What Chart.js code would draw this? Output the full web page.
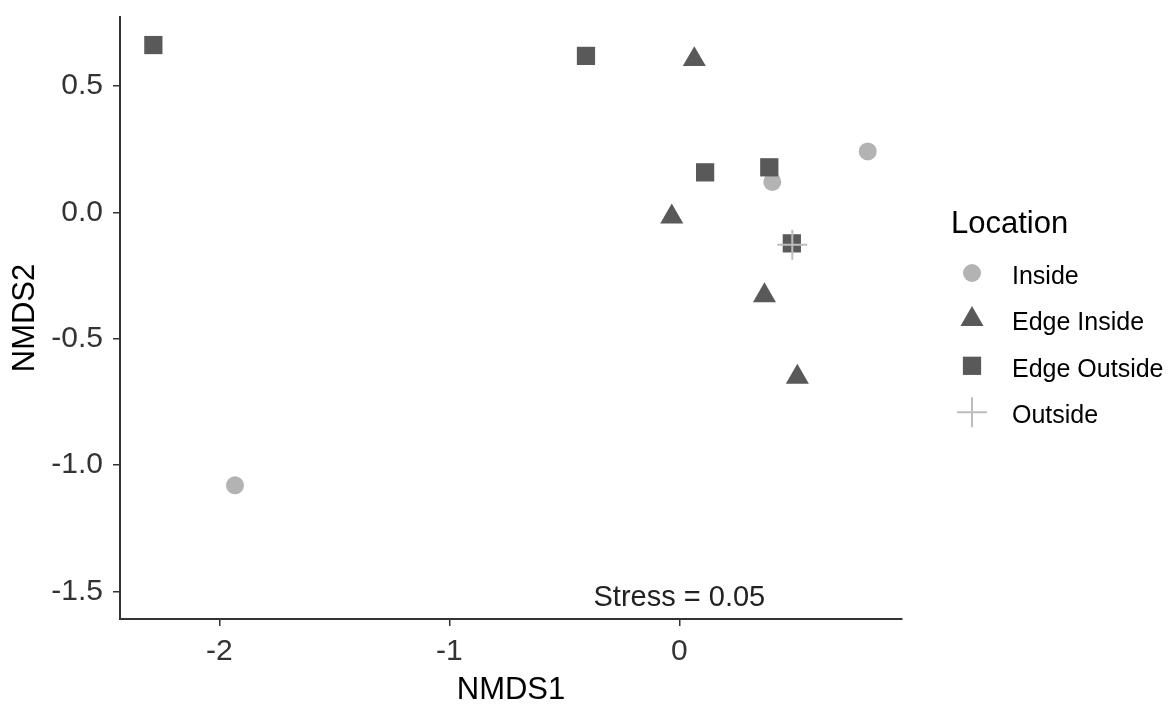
<!DOCTYPE html>
<html>
<head>
<meta charset="utf-8">
<script src="https://cdn.jsdelivr.net/npm/chart.js@4.4.0/dist/chart.umd.min.js"></script>
<style>
  html, body { margin: 0; padding: 0; background: #fff; }
  #wrap { width: 1175px; height: 704px; }
</style>
</head>
<body>
<div id="wrap"><canvas id="myChart" width="1175" height="704"></canvas></div>
<script>
// NMDS scores per location group
const insideX = [-1.932, 0.404, 0.819];
const insideY = [-1.080, 0.121, 0.242];
const edgeInsideX = [0.065, -0.033, 0.370, 0.513];
const edgeInsideY = [0.606, -0.017, -0.329, -0.651];
const edgeOutsideX = [-2.287, -0.406, 0.112, 0.391, 0.489];
const edgeOutsideY = [0.663, 0.620, 0.159, 0.179, -0.122];
const outsideX = [0.491];
const outsideY = [-0.128];

const xTicks = [-2, -1, 0];
const yTicks = [-1.5, -1.0, -0.5, 0.0, 0.5];
const legendTitle = 'Location';
const stressText = 'Stress = 0.05';

const FONT = "'Liberation Sans', Arial, sans-serif";
const DARK = '#595959';
const LIGHT = '#b3b3b3';
const AXIS = '#333333';

Chart.defaults.font.family = FONT;

function toPoints(xs, ys) {
  return xs.map((x, i) => ({ x: x, y: ys[i] }));
}

// legend on the right, drawn like ggplot's guide
const locationLegend = {
  id: 'locationLegend',
  afterDraw(chart) {
    const ctx = chart.ctx;
    const area = chart.chartArea;
    const midY = (area.top + area.bottom) / 2;
    const markX = area.right + 70;
    const textX = area.right + 110;

    ctx.save();
    ctx.fillStyle = '#000';
    ctx.textAlign = 'left';
    ctx.textBaseline = 'middle';
    ctx.font = '31px ' + FONT;
    ctx.fillText(legendTitle, area.right + 49, midY - 94);

    ctx.font = '25px ' + FONT;
    chart.data.datasets.forEach((ds, i) => {
      const y = midY - 45 + i * 46.4;
      ctx.fillStyle = ds.backgroundColor;
      ctx.strokeStyle = ds.borderColor || ds.backgroundColor;
      ctx.lineWidth = ds.borderWidth;
      Chart.helpers.drawPoint(ctx, {
        pointStyle: ds.pointStyle,
        radius: ds.pointRadius,
        rotation: 0,
        borderWidth: ds.borderWidth
      }, markX, y);
      ctx.fillStyle = '#000';
      ctx.fillText(ds.label, textX, y + 4);
    });

    // stress annotation
    const xs = chart.scales.x, ys = chart.scales.y;
    ctx.fillStyle = '#222';
    ctx.textAlign = 'center';
    ctx.font = '29px ' + FONT;
    ctx.fillText(stressText, xs.getPixelForValue(0), ys.getPixelForValue(-1.527));
    ctx.restore();
  }
};

const ctx = document.getElementById('myChart').getContext('2d');

const datasets = [{
  label: 'Inside',
  data: toPoints(insideX, insideY),
  pointStyle: 'circle',
  pointRadius: 9,
  backgroundColor: LIGHT,
  borderWidth: 0,
  order: 4
}, {
  label: 'Edge Inside',
  data: toPoints(edgeInsideX, edgeInsideY),
  pointStyle: 'triangle',
  pointRadius: 13.3,
  backgroundColor: DARK,
  borderWidth: 0,
  order: 3
}, {
  label: 'Edge Outside',
  data: toPoints(edgeOutsideX, edgeOutsideY),
  pointStyle: 'rect',
  pointRadius: 12.9,
  backgroundColor: DARK,
  borderWidth: 0,
  order: 2
}, {
  label: 'Outside',
  data: toPoints(outsideX, outsideY),
  pointStyle: 'cross',
  pointRadius: 15,
  backgroundColor: '#bdbdbd',
  borderColor: '#bdbdbd',
  borderWidth: 2,
  order: 1
}];

const config = {
  type: 'scatter',
  data: { datasets: datasets },
  plugins: [locationLegend],
  options: {
    responsive: false,
    animation: false,
    events: [],
    layout: { padding: { top: 14, right: 273, bottom: 0, left: 0 } },
    plugins: {
      legend: { display: false },
      tooltip: { enabled: false }
    },
    scales: {
      x: {
        type: 'linear',
        min: -2.432,
        max: 0.968,
        afterBuildTicks: (s) => { s.ticks = xTicks.map(v => ({ value: v })); },
        afterFit: (s) => { s.height = 85; s.paddingLeft = 0; s.paddingRight = 0; },
        grid: { drawOnChartArea: false, drawTicks: true, tickLength: 7, color: AXIS, lineWidth: 1.5 },
        border: { display: true, color: AXIS, width: 2 },
        ticks: {
          color: '#333',
          font: { size: 30 },
          padding: 8,
          maxRotation: 0,
          callback: (v) => String(v)
        },
        title: {
          display: true,
          text: 'NMDS1',
          color: '#000',
          font: { size: 31, lineHeight: 0.9 },
          padding: 0
        }
      },
      y: {
        type: 'linear',
        min: -1.609,
        max: 0.774,
        afterBuildTicks: (s) => { s.ticks = yTicks.map(v => ({ value: v })); },
        afterFit: (s) => { s.width = 120; s.paddingTop = 0; s.paddingBottom = 0; },
        grid: { drawOnChartArea: false, drawTicks: true, tickLength: 7, color: AXIS, lineWidth: 1.5 },
        border: { display: true, color: AXIS, width: 2 },
        ticks: {
          color: '#333',
          font: { size: 30 },
          padding: 10,
          callback: (v) => v.toFixed(1)
        },
        title: {
          display: true,
          text: 'NMDS2',
          color: '#000',
          font: { size: 31, lineHeight: 0.9 },
          padding: { top: 12, bottom: 0 }
        }
      }
    }
  }
};

const myChart = new Chart(ctx, config);
</script>
</body>
</html>
